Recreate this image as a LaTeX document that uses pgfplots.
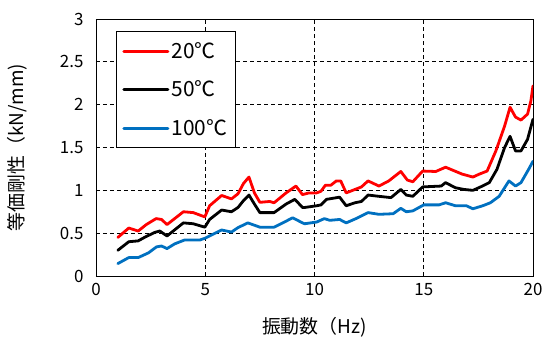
\documentclass[border=0pt]{standalone}
\usepackage{fontspec}
\setmainfont{Noto Sans CJK JP}
\usepackage{pgfplots}
\pgfplotsset{compat=1.18}
\usetikzlibrary{calc}
\definecolor{xred}{RGB}{255,0,0}
\definecolor{xblue}{RGB}{0,112,192}
\begin{document}
\begin{tikzpicture}
\begin{axis}[
  scale only axis,
  width=437bp, height=257bp,
  xmin=0, xmax=20, ymin=0, ymax=3,
  xtick={0,5,10,15,20},
  xticklabels={0,5,10,15,20},
  ytick={0,0.5,1,1.5,2,2.5,3},
  yticklabels={0,0.5,1,1.5,2,2.5,3},
  major tick length=0pt,
  grid=major,
  grid style={black, dashed, line width=0.7bp, dash pattern=on 4bp off 3bp},
  axis line style={black, line width=0.9bp},
  /pgf/number format/assume math mode=true,
  ticklabel style={font=\fontsize{17}{20}\selectfont},
  yticklabel style={xshift=-9bp},
  xticklabel style={yshift=-4bp},
  xlabel={振動数（Hz)},
  ylabel={等価剛性（kN/mm)},
  label style={font=\fontsize{19}{22}\selectfont},
  xlabel style={at={(axis description cs:0.5,0)}, anchor=center, yshift=-51bp},
  ylabel style={at={(axis description cs:0,0.5)}, anchor=center, yshift=79bp},
  legend style={at={(0.0458,0.953)}, anchor=north west, draw=black, line width=0.8bp,
    font=\fontsize{21}{24}\selectfont, row sep=17bp, inner xsep=6bp, inner ysep=9bp},
  legend cell align=left,
  legend image code/.code={\draw[#1, line width=3bp] (0bp,0bp) -- (44bp,0bp);},
  every axis plot/.append style={line width=2.8bp, line join=round, line cap=round},
]
\addplot[xred] coordinates {
(1.0,0.45)(1.5,0.56)(1.93,0.525)(2.3,0.60)(2.75,0.67)(3.0,0.66)(3.25,0.60)(4.0,0.75)
(4.45,0.74)(4.98,0.69)(5.2,0.82)(5.75,0.94)(6.2,0.90)(6.5,0.96)(6.75,1.08)(7.0,1.155)
(7.25,0.97)(7.5,0.86)(7.95,0.87)(8.15,0.855)(8.7,0.97)(9.15,1.05)(9.45,0.95)(9.75,0.97)
(10.1,0.97)(10.3,0.99)(10.5,1.06)(10.75,1.06)(11.0,1.11)(11.2,1.11)(11.45,0.97)(11.85,1.01)
(12.15,1.04)(12.45,1.11)(12.95,1.05)(13.4,1.11)(13.95,1.22)(14.25,1.12)(14.5,1.10)(14.95,1.225)
(15.55,1.22)(16.0,1.27)(16.75,1.19)(17.25,1.155)(17.55,1.19)(17.9,1.225)(18.3,1.46)(18.7,1.75)
(18.95,1.97)(19.2,1.855)(19.45,1.82)(19.75,1.89)(19.9,2.04)(20.0,2.22)
};
\addlegendentry{20℃}
\addplot[black] coordinates {
(1.0,0.30)(1.5,0.40)(1.93,0.41)(2.25,0.455)(2.7,0.51)(2.92,0.525)(3.25,0.467)(4.0,0.62)
(4.45,0.61)(4.98,0.57)(5.2,0.66)(5.75,0.77)(6.2,0.75)(6.5,0.80)(6.75,0.88)(7.0,0.945)
(7.25,0.84)(7.5,0.74)(8.15,0.74)(8.7,0.84)(9.1,0.895)(9.45,0.80)(9.55,0.80)(10.1,0.82)
(10.3,0.83)(10.55,0.895)(11.15,0.92)(11.45,0.82)(11.85,0.855)(12.15,0.87)(12.45,0.945)(12.95,0.93)
(13.5,0.915)(13.95,1.01)(14.2,0.945)(14.5,0.93)(14.95,1.04)(15.8,1.05)(16.0,1.09)(16.45,1.03)
(16.85,1.01)(17.25,1.0)(17.6,1.04)(18.0,1.09)(18.35,1.245)(18.7,1.50)(18.95,1.63)(19.2,1.46)
(19.45,1.46)(19.75,1.595)(20.0,1.83)
};
\addlegendentry{50℃}
\addplot[xblue] coordinates {
(1.0,0.145)(1.5,0.215)(1.93,0.215)(2.4,0.27)(2.77,0.34)(3.0,0.35)(3.25,0.32)(3.6,0.375)
(4.05,0.42)(4.75,0.42)(4.98,0.44)(5.35,0.487)(5.75,0.537)(6.2,0.513)(6.5,0.565)(6.95,0.62)
(7.5,0.57)(8.15,0.57)(8.55,0.62)(9.0,0.68)(9.45,0.62)(9.55,0.61)(10.1,0.63)(10.45,0.67)
(10.7,0.65)(11.15,0.66)(11.45,0.62)(11.9,0.67)(12.45,0.74)(12.95,0.72)(13.6,0.727)(13.95,0.79)
(14.2,0.75)(14.5,0.76)(15.0,0.83)(15.7,0.83)(16.0,0.855)(16.45,0.82)(16.95,0.82)(17.25,0.785)
(17.7,0.82)(18.05,0.855)(18.45,0.93)(18.9,1.11)(19.2,1.05)(19.45,1.09)(19.8,1.245)(20.0,1.34)
};
\addlegendentry{100℃}
\end{axis}
\pgfresetboundingbox
\path[use as bounding box] ($(current axis.south west)+(-96bp,-69bp)$) rectangle ($(current axis.north east)+(10bp,19bp)$);
\end{tikzpicture}
\end{document}
